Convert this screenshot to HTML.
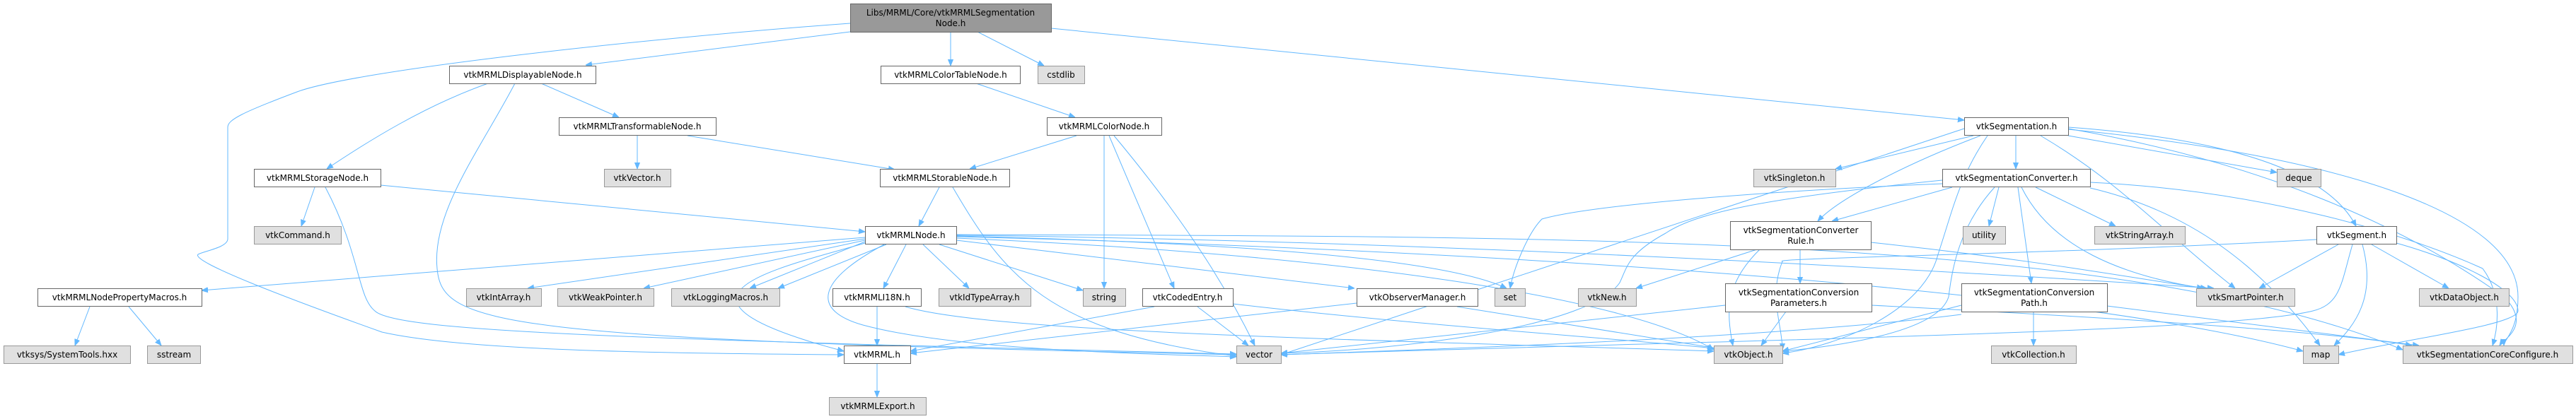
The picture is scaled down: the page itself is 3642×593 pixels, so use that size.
<!DOCTYPE html>
<html><head><meta charset="utf-8"><style>
html,body{margin:0;padding:0;background:#fff;}
svg{display:block;}
text{font-family:"DejaVu Sans","Liberation Sans",sans-serif;font-size:12px;fill:#000;}
.w{fill:#fff;stroke:#666;stroke-width:1;}
.g{fill:#e0e0e0;stroke:#999;stroke-width:1;}
.r{fill:#999;stroke:#666;stroke-width:1;}
path{fill:none;stroke:#63b8ff;stroke-width:1;marker-end:url(#a);}
</style></head><body>
<svg width="3642" height="593" viewBox="0 0 3642 593" xmlns="http://www.w3.org/2000/svg">
<defs><marker id="a" viewBox="0 0 10 10" refX="10" refY="5" markerWidth="9" markerHeight="9" orient="auto" markerUnits="userSpaceOnUse"><path d="M0,1 L10,5 L0,9 z" style="fill:#63b8ff;stroke:#63b8ff;marker-end:none"/></marker></defs>

<!-- edges -->
<path d="M1202,33 C900,55 500,100 420,130 C340,160 322,170 322,180 L322,338 C322,350 290,355 280,360 C270,370 400,420 540,470 C650,495 900,500 1193,502"/>
<path d="M1202,45 L828,92"/>
<path d="M1344,45 L1344,93"/>
<path d="M1382,45 L1476,93"/>
<path d="M1486,40 L2777,170"/>
<path d="M690,118 C600,150 520,200 462,239"/>
<path d="M765,118 L875,166"/>
<path d="M728,118 C680,210 610,300 618,380 C625,460 700,480 1748,502"/>
<path d="M901,192 L901,239"/>
<path d="M972,192 L1265,240"/>
<path d="M1380,118 L1520,166"/>
<path d="M1522,192 L1371,239"/>
<path d="M1561,192 L1561,408"/>
<path d="M1568,192 L1660,408"/>
<path d="M1575,192 C1690,330 1740,420 1774,489"/>
<path d="M1328,265 L1299,320"/>
<path d="M1347,265 C1420,390 1480,470 1748,504"/>
<path d="M538,262 L1223,328"/>
<path d="M445,265 L426,320"/>
<path d="M460,265 C510,360 505,420 530,440 C560,470 900,480 1748,501"/>
<path d="M1223,336 L285,411"/>
<path d="M1223,338 L746,408"/>
<path d="M1223,340 L910,408"/>
<path d="M1223,342 L1060,408"/>
<path d="M1253,346 L1100,408"/>
<path d="M1281,346 L1249,408"/>
<path d="M1305,346 L1370,408"/>
<path d="M1328,346 L1531,411"/>
<path d="M1352,340 L1915,408"/>
<path d="M1352,334 C1800,345 2050,370 2130,408"/>
<path d="M1352,337 C1900,360 2300,420 2423,495"/>
<path d="M1352,333 C2000,340 2700,380 3130,408"/>
<path d="M1352,335 C2000,350 2900,400 3256,497"/>
<path d="M1250,346 C1150,400 1150,440 1220,460 C1350,495 1600,500 1748,505"/>
<path d="M1223,344 C1100,380 900,420 1193,497"/>
<path d="M1352,332 C2200,335 3000,330 3397,495"/>
<path d="M127,434 L106,489"/>
<path d="M182,434 L228,489"/>
<path d="M1240,434 L1240,489"/>
<path d="M1280,434 C1400,470 1900,480 2423,497"/>
<path d="M1632,434 L1287,497"/>
<path d="M1693,434 L1765,489"/>
<path d="M1743,430 C2000,460 2300,480 2423,493"/>
<path d="M1918,429 L1287,500"/>
<path d="M2060,434 L2440,495"/>
<path d="M1240,515 L1240,562"/>
<path d="M2777,182 L1811,502"/>
<path d="M2850,192 L2850,239"/>
<path d="M2790,192 L2595,239"/>
<path d="M2800,192 C2700,230 2600,280 2570,313"/>
<path d="M2924,192 L3219,244"/>
<path d="M2924,180 C3200,200 3300,260 3331,320"/>
<path d="M2885,192 C3000,260 3060,330 3160,408"/>
<path d="M2810,192 C2770,250 2760,300 2740,360 C2720,440 2600,490 2520,500"/>
<path d="M2924,182 C3200,230 3400,320 3540,420 C3580,460 3540,480 3534,489"/>
<path d="M2924,183 C3300,220 3560,300 3560,420 C3560,470 3540,480 3540,489"/>
<path d="M2746,255 C2500,280 2400,300 2355,330 C2300,360 2300,380 2290,400 C2250,460 2000,495 1811,500"/>
<path d="M2760,265 L2590,313"/>
<path d="M2826,265 L2812,320"/>
<path d="M2878,265 L2991,320"/>
<path d="M2853,265 L2872,401"/>
<path d="M2858,265 C2900,350 3000,390 3115,408"/>
<path d="M2955,266 C3100,300 3200,380 3280,489"/>
<path d="M2746,260 C2500,270 2250,290 2180,310 C2160,330 2140,380 2135,408"/>
<path d="M2820,265 C2770,320 2760,380 2755,420 C2740,470 2600,490 2520,497"/>
<path d="M2955,258 C3200,270 3400,330 3510,380 C3540,420 3530,470 3524,489"/>
<path d="M2545,353 L2545,401"/>
<path d="M2484,353 L2313,408"/>
<path d="M2488,353 C2440,400 2440,440 2450,489"/>
<path d="M2645,343 C2900,370 3050,400 3120,408"/>
<path d="M2525,441 L2490,489"/>
<path d="M2439,432 L1811,500"/>
<path d="M2646,432 C3000,450 3300,470 3410,489"/>
<path d="M2875,441 L2875,489"/>
<path d="M2773,432 L2520,497"/>
<path d="M2773,445 C2500,480 2000,495 1811,502"/>
<path d="M2979,433 L3420,489"/>
<path d="M3306,346 L3194,408"/>
<path d="M3353,346 L3462,408"/>
<path d="M3340,346 C3360,420 3330,460 3300,489"/>
<path d="M3326,346 C3310,400 3310,430 3270,440 C3150,470 2500,480 1811,502"/>
<path d="M3275,339 C2900,360 2500,365 2520,370 C2500,420 2520,460 2520,495"/>
<path d="M3388,344 C3480,370 3560,410 3560,440 C3560,460 3400,480 3306,502"/>

<!-- nodes -->
<rect class="r" x="1202.5" y="5.5" width="284" height="40"/><text x="1344" y="22" text-anchor="middle">Libs/MRML/Core/vtkMRMLSegmentation</text><text x="1344" y="37" text-anchor="middle">Node.h</text>
<rect class="w" x="635.5" y="93.5" width="207" height="25"/><text x="739" y="110" text-anchor="middle">vtkMRMLDisplayableNode.h</text>
<rect class="w" x="1245.5" y="93.5" width="197" height="25"/><text x="1344" y="110" text-anchor="middle">vtkMRMLColorTableNode.h</text>
<rect class="g" x="1467.5" y="93.5" width="66" height="25"/><text x="1500" y="110" text-anchor="middle">cstdlib</text>
<rect class="w" x="790.5" y="166.5" width="222" height="25"/><text x="901" y="183" text-anchor="middle">vtkMRMLTransformableNode.h</text>
<rect class="w" x="1480.5" y="166.5" width="162" height="25"/><text x="1561" y="183" text-anchor="middle">vtkMRMLColorNode.h</text>
<rect class="w" x="2777.5" y="166.5" width="147" height="25"/><text x="2851" y="183" text-anchor="middle">vtkSegmentation.h</text>
<rect class="w" x="359.5" y="239.5" width="179" height="25"/><text x="449" y="256" text-anchor="middle">vtkMRMLStorageNode.h</text>
<rect class="g" x="854.5" y="239.5" width="94" height="25"/><text x="901" y="256" text-anchor="middle">vtkVector.h</text>
<rect class="w" x="1244.5" y="239.5" width="183" height="25"/><text x="1336" y="256" text-anchor="middle">vtkMRMLStorableNode.h</text>
<rect class="g" x="2479.5" y="239.5" width="116" height="25"/><text x="2537" y="256" text-anchor="middle">vtkSingleton.h</text>
<rect class="w" x="2746.5" y="239.5" width="209" height="25"/><text x="2851" y="256" text-anchor="middle">vtkSegmentationConverter.h</text>
<rect class="g" x="3219.5" y="239.5" width="62" height="25"/><text x="3250" y="256" text-anchor="middle">deque</text>
<rect class="g" x="359.5" y="320.5" width="123" height="25"/><text x="421" y="337" text-anchor="middle">vtkCommand.h</text>
<rect class="w" x="1223.5" y="320.5" width="129" height="25"/><text x="1288" y="337" text-anchor="middle">vtkMRMLNode.h</text>
<rect class="w" x="2446.5" y="313.5" width="199" height="40"/><text x="2546" y="330" text-anchor="middle">vtkSegmentationConverter</text><text x="2546" y="345" text-anchor="middle">Rule.h</text>
<rect class="g" x="2775.5" y="320.5" width="60" height="25"/><text x="2805" y="337" text-anchor="middle">utility</text>
<rect class="g" x="2961.5" y="320.5" width="128" height="25"/><text x="3025" y="337" text-anchor="middle">vtkStringArray.h</text>
<rect class="w" x="3275.5" y="320.5" width="113" height="25"/><text x="3332" y="337" text-anchor="middle">vtkSegment.h</text>
<rect class="w" x="53.5" y="408.5" width="232" height="25"/><text x="169" y="425" text-anchor="middle">vtkMRMLNodePropertyMacros.h</text>
<rect class="g" x="659.5" y="408.5" width="106" height="25"/><text x="712" y="425" text-anchor="middle">vtkIntArray.h</text>
<rect class="g" x="788.5" y="408.5" width="136" height="25"/><text x="856" y="425" text-anchor="middle">vtkWeakPointer.h</text>
<rect class="g" x="949.5" y="408.5" width="153" height="25"/><text x="1026" y="425" text-anchor="middle">vtkLoggingMacros.h</text>
<rect class="w" x="1177.5" y="408.5" width="125" height="25"/><text x="1240" y="425" text-anchor="middle">vtkMRMLI18N.h</text>
<rect class="g" x="1327.5" y="408.5" width="130" height="25"/><text x="1392" y="425" text-anchor="middle">vtkIdTypeArray.h</text>
<rect class="g" x="1531.5" y="408.5" width="60" height="25"/><text x="1561" y="425" text-anchor="middle">string</text>
<rect class="w" x="1615.5" y="408.5" width="128" height="25"/><text x="1679" y="425" text-anchor="middle">vtkCodedEntry.h</text>
<rect class="w" x="1918.5" y="408.5" width="171" height="25"/><text x="2004" y="425" text-anchor="middle">vtkObserverManager.h</text>
<rect class="g" x="2113.5" y="408.5" width="43" height="25"/><text x="2135" y="425" text-anchor="middle">set</text>
<rect class="g" x="2231.5" y="408.5" width="82" height="25"/><text x="2272" y="425" text-anchor="middle">vtkNew.h</text>
<rect class="w" x="2439.5" y="401.5" width="207" height="40"/><text x="2543" y="418" text-anchor="middle">vtkSegmentationConversion</text><text x="2543" y="433" text-anchor="middle">Parameters.h</text>
<rect class="w" x="2773.5" y="401.5" width="206" height="40"/><text x="2876" y="418" text-anchor="middle">vtkSegmentationConversion</text><text x="2876" y="433" text-anchor="middle">Path.h</text>
<rect class="g" x="3105.5" y="408.5" width="139" height="25"/><text x="3175" y="425" text-anchor="middle">vtkSmartPointer.h</text>
<rect class="g" x="3420.5" y="408.5" width="127" height="25"/><text x="3484" y="425" text-anchor="middle">vtkDataObject.h</text>
<rect class="g" x="5.5" y="489.5" width="179" height="25"/><text x="95" y="506" text-anchor="middle">vtksys/SystemTools.hxx</text>
<rect class="g" x="208.5" y="489.5" width="75" height="25"/><text x="246" y="506" text-anchor="middle">sstream</text>
<rect class="w" x="1193.5" y="489.5" width="94" height="25"/><text x="1240" y="506" text-anchor="middle">vtkMRML.h</text>
<rect class="g" x="1748.5" y="489.5" width="63" height="25"/><text x="1780" y="506" text-anchor="middle">vector</text>
<rect class="g" x="2423.5" y="489.5" width="97" height="25"/><text x="2472" y="506" text-anchor="middle">vtkObject.h</text>
<rect class="g" x="2815.5" y="489.5" width="120" height="25"/><text x="2875" y="506" text-anchor="middle">vtkCollection.h</text>
<rect class="g" x="3256.5" y="489.5" width="50" height="25"/><text x="3281" y="506" text-anchor="middle">map</text>
<rect class="g" x="3397.5" y="489.5" width="240" height="25"/><text x="3517" y="506" text-anchor="middle">vtkSegmentationCoreConfigure.h</text>
<rect class="g" x="1172.5" y="562.5" width="137" height="25"/><text x="1241" y="579" text-anchor="middle">vtkMRMLExport.h</text>
</svg>
</body></html>
